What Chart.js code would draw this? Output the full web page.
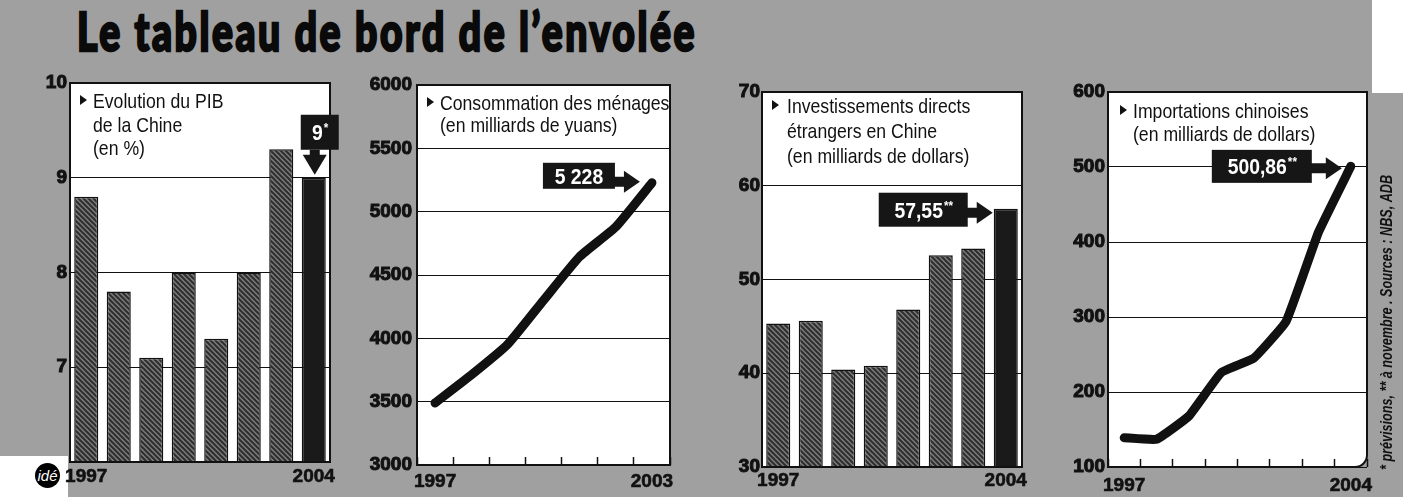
<!DOCTYPE html>
<html>
<head>
<meta charset="utf-8">
<script src="https://cdn.jsdelivr.net/npm/chart.js@4.4.1/dist/chart.umd.min.js"></script>
<style>
  html, body { margin: 0; padding: 0; background: #fff; }
  body { width: 1405px; height: 502px; position: relative; overflow: hidden; }
  .bg { position: absolute; background: #a0a0a0; }
  #title {
    position: absolute; left: 77px; top: 4px;
    font: 900 53px Lato, Roboto, "DejaVu Sans", sans-serif; line-height: 54px;
    white-space: nowrap; transform-origin: 0 0; color: #0a0a0a;
    -webkit-text-stroke: 2.5px #0a0a0a; letter-spacing: 3.5px;
  }
  #logo {
    position: absolute; left: 35px; top: 463px; width: 25px; height: 25px; border-radius: 50%;
    background: #000; color: #fff; font: italic 15px "Liberation Sans", sans-serif;
    line-height: 25px; text-align: center;
  }
  canvas { position: absolute; }
</style>
</head>
<body>
<div class="bg" style="left:0;top:0;width:1372px;height:497px"></div>
<div class="bg" style="left:1372px;top:93px;width:31px;height:404px"></div>
<div style="position:absolute;left:0;top:456px;width:68px;height:46px;background:#fff"></div>
<div id="logo">idé</div>
<div id="title">Le tableau de bord de l’envolée</div>
<canvas id="c1" width="350" height="442" style="left:0;top:60px"></canvas>
<canvas id="c2" width="350" height="442" style="left:350px;top:60px"></canvas>
<canvas id="c3" width="340" height="442" style="left:700px;top:60px"></canvas>
<canvas id="c4" width="365" height="442" style="left:1040px;top:60px"></canvas>
<script>
// ---- data ----
const pibYears = ["1997", "1998", "1999", "2000", "2001", "2002", "2003", "2004"];
const pibValues = [8.8, 7.8, 7.1, 8.0, 7.3, 8.0, 9.3, 9.0];

const consoYears = ["1997", "1998", "1999", "2000", "2001", "2002", "2003"];
const consoValues = [3490, 3710, 3950, 4300, 4645, 4880, 5228];

const ideYears = ["1997", "1998", "1999", "2000", "2001", "2002", "2003", "2004"];
const ideValues = [45.3, 45.6, 40.4, 40.8, 46.8, 52.6, 53.3, 57.55];

const importYears = ["1997", "1998", "1999", "2000", "2001", "2002", "2003", "2004"];
const importValues = [139, 137, 168, 226, 245, 294, 413, 500.86];

const pibHeading = ["Evolution du PIB", "de la Chine", "(en %)"];
const consoHeading = ["Consommation des ménages", "(en milliards de yuans)"];
const ideHeading = ["Investissements directs", "étrangers en Chine", "(en milliards de dollars)"];
const importHeading = ["Importations chinoises", "(en milliards de dollars)"];

const sourceNote = "* prévisions, ** à novembre . Sources : NBS, ADB";

// ---- styling ----
const INK = "#111";
const FAMILY = "'Liberation Sans', Arial, sans-serif";

function fontAvailable(name) {
  const c = document.createElement("canvas").getContext("2d");
  c.font = "40px monospace";
  const a = c.measureText("1997 abcXYZ").width;
  c.font = '40px "' + name + '", monospace';
  return c.measureText("1997 abcXYZ").width !== a;
}
const hasNarrow = fontAvailable("Liberation Sans Narrow");
const xTickFont = hasNarrow
  ? { family: "'Liberation Sans Narrow'", size: 23, weight: "bold" }
  : { family: FAMILY, size: 19, weight: "bold" };
const yTickFont = { family: FAMILY, size: 19, weight: "bold" };
const xHalf = xTickFont.size * 1.2 / 2;

// fit the big title to its width
const titleEl = document.getElementById("title");
titleEl.style.transform = "scaleX(" + (620 / titleEl.getBoundingClientRect().width) + ")";

function hatch(canvasId, bg, fg) {
  const p = document.createElement("canvas");
  p.width = 5; p.height = 5;
  const g = p.getContext("2d");
  g.fillStyle = bg; g.fillRect(0, 0, 5, 5);
  g.strokeStyle = fg; g.lineWidth = 2;
  g.beginPath();
  g.moveTo(0, 0); g.lineTo(5, 5);
  g.moveTo(-2.5, 2.5); g.lineTo(2.5, 7.5);
  g.moveTo(2.5, -2.5); g.lineTo(7.5, 2.5);
  g.stroke();
  return document.getElementById(canvasId).getContext("2d").createPattern(p, "repeat");
}

function squeezedText(ctx, text, x, y, size, weight, squeeze, color) {
  ctx.save();
  ctx.font = weight + " " + size + "px " + FAMILY;
  ctx.fillStyle = color;
  ctx.textAlign = "left";
  ctx.textBaseline = "alphabetic";
  ctx.translate(x, y);
  ctx.scale(squeeze, 1);
  ctx.fillText(text, 0, 0);
  ctx.restore();
}
function squeezedWidth(ctx, text, size, weight, squeeze) {
  ctx.save();
  ctx.font = weight + " " + size + "px " + FAMILY;
  const w = ctx.measureText(text).width * squeeze;
  ctx.restore();
  return w;
}

// value label: main text + small superscript, centred in a box
function boxLabel(ctx, bx, by, bw, bh, main, sup) {
  ctx.fillStyle = "#161616";
  ctx.fillRect(bx, by, bw, bh);
  const wm = squeezedWidth(ctx, main, 22, "bold", 0.88);
  const ws = sup ? squeezedWidth(ctx, sup, 13, "bold", 0.9) : 0;
  const x0 = bx + (bw - wm - ws) / 2;
  const base = by + bh / 2 + 8;
  squeezedText(ctx, main, x0, base, 22, "bold", 0.88, "#fff");
  if (sup) squeezedText(ctx, sup, x0 + wm + 1, base - 8, 13, "bold", 0.9, "#fff");
}

function calloutRight(ctx, tipX, tipY, c) {
  const headLen = 16, headHalf = 11, shaftH = 10;
  const boxRight = tipX - c.arrow;
  ctx.save();
  ctx.fillStyle = "#161616";
  ctx.beginPath();
  ctx.moveTo(boxRight - 1, tipY - shaftH / 2);
  ctx.lineTo(tipX - headLen, tipY - shaftH / 2);
  ctx.lineTo(tipX - headLen, tipY - headHalf);
  ctx.lineTo(tipX, tipY);
  ctx.lineTo(tipX - headLen, tipY + headHalf);
  ctx.lineTo(tipX - headLen, tipY + shaftH / 2);
  ctx.lineTo(boxRight - 1, tipY + shaftH / 2);
  ctx.closePath();
  ctx.fill();
  boxLabel(ctx, boxRight - c.w, tipY + c.dy - c.h / 2, c.w, c.h, c.main, c.sup);
  ctx.restore();
}

function calloutDown(ctx, tipX, tipY, c) {
  const headLen = 20, headHalf = 12, shaft = 5, shaftW = 10;
  const boxBottom = tipY - headLen - shaft;
  ctx.save();
  ctx.fillStyle = "#161616";
  ctx.beginPath();
  ctx.moveTo(tipX - shaftW / 2, boxBottom);
  ctx.lineTo(tipX - shaftW / 2, tipY - headLen);
  ctx.lineTo(tipX - headHalf, tipY - headLen);
  ctx.lineTo(tipX, tipY);
  ctx.lineTo(tipX + headHalf, tipY - headLen);
  ctx.lineTo(tipX + shaftW / 2, tipY - headLen);
  ctx.lineTo(tipX + shaftW / 2, boxBottom);
  ctx.closePath();
  ctx.fill();
  boxLabel(ctx, tipX + c.dx - c.w / 2, boxBottom - c.h, c.w, c.h, c.main, c.sup);
  ctx.restore();
}

const panelPlugin = {
  id: "panel",
  beforeDraw(chart, args, o) {
    const a = chart.chartArea, ctx = chart.ctx;
    ctx.save();
    ctx.fillStyle = "#fff";
    ctx.beginPath();
    ctx.roundRect(a.left, a.top, a.width, a.height, [0, 0, o.radius || 0, 0]);
    ctx.fill();
    ctx.restore();
  },
  afterDraw(chart, args, o) {
    const a = chart.chartArea, ctx = chart.ctx;
    // frame
    ctx.save();
    ctx.strokeStyle = INK;
    ctx.lineWidth = 2;
    ctx.beginPath();
    ctx.roundRect(a.left, a.top, a.width, a.height, [0, 0, o.radius || 0, 0]);
    ctx.stroke();
    ctx.restore();

    // heading with bullet
    const h = o.heading;
    const bx = a.left + h.bulletX, by = a.top + h.y - 8;
    ctx.save();
    ctx.fillStyle = INK;
    ctx.beginPath();
    ctx.moveTo(bx, by - 5); ctx.lineTo(bx + 7, by); ctx.lineTo(bx, by + 5);
    ctx.closePath(); ctx.fill();
    ctx.restore();
    h.lines.forEach((line, i) => {
      squeezedText(ctx, line, a.left + h.x, a.top + h.y + i * h.lh, 21, "normal", 0.84, INK);
    });

    // value callout on the last mark
    const meta = chart.getDatasetMeta(0);
    const el = meta.data[meta.data.length - 1];
    const c = o.callout;
    if (c.dir === "down") {
      calloutDown(ctx, el.x + 1, el.y - 3, c);
    } else if (c.bar) {
      calloutRight(ctx, el.x - el.width / 2 - 1, el.y + 4, c);
    } else {
      calloutRight(ctx, el.x + c.tipDx, el.y + c.tipDy, c);
    }

    // vertical source note
    if (o.side) {
      const s = o.side;
      ctx.save();
      ctx.font = "italic bold 17px " + FAMILY;
      const w = ctx.measureText(s.text).width;
      ctx.translate(s.x, s.y);
      ctx.rotate(-Math.PI / 2);
      ctx.scale(s.len / w, 1);
      ctx.fillStyle = INK;
      ctx.textBaseline = "middle";
      ctx.fillText(s.text, 0, 0);
      ctx.restore();
    }
  }
};

function makePanel(id, cfg) {
  return new Chart(document.getElementById(id), {
    type: cfg.type,
    data: { labels: cfg.labels, datasets: [cfg.dataset] },
    options: {
      responsive: false,
      animation: false,
      events: [],
      devicePixelRatio: 1,
      layout: { padding: cfg.padding },
      plugins: {
        legend: { display: false },
        tooltip: { enabled: false },
        panel: cfg.panel
      },
      scales: {
        x: {
          offset: true,
          grid: {
            offset: true, drawOnChartArea: false, drawTicks: cfg.xTicks,
            tickLength: -8, tickColor: INK, tickWidth: 1.5
          },
          border: { display: false },
          ticks: {
            autoSkip: false, maxRotation: 0, font: xTickFont, color: INK,
            textStrokeColor: INK, textStrokeWidth: 0.6,
            padding: cfg.xOffset - xHalf + (cfg.xTicks ? 8 : 0),
            callback: function (v, i, arr) {
              return (i === 0 || i === arr.length - 1) ? this.getLabelForValue(v) : "";
            }
          },
          afterFit: (s) => { s.height = cfg.xHeight; }
        },
        y: {
          min: cfg.yMin, max: cfg.yMax,
          grid: { color: INK, lineWidth: 1, drawTicks: false },
          border: { display: false },
          ticks: {
            stepSize: cfg.yStep, font: yTickFont, color: INK, padding: cfg.yPad,
            textStrokeColor: INK, textStrokeWidth: 1,
            callback: (v) => (cfg.yHide && cfg.yHide.includes(v)) ? "" : String(v)
          },
          afterFit: (s) => { s.width = cfg.yWidth; }
        }
      }
    },
    plugins: [panelPlugin]
  });
}

// Evolution du PIB
const pibPattern = hatch("c1", "#7c7c7c", "#2e2e2e");
makePanel("c1", {
  type: "bar",
  labels: pibYears,
  dataset: {
    data: pibValues,
    backgroundColor: pibValues.map((v, i) => i === pibValues.length - 1 ? "#1a1a1a" : pibPattern),
    borderColor: INK, borderWidth: 1.5,
    barPercentage: 0.74, categoryPercentage: 1
  },
  padding: { top: 23, right: 20, left: 0, bottom: 0 },
  yWidth: 70, xHeight: 40, yPad: 3, xOffset: 15, xTicks: false,
  yMin: 6, yMax: 10, yStep: 1, yHide: [6],
  panel: {
    heading: { lines: pibHeading, bulletX: 10, x: 23, y: 25, lh: 23.5 },
    callout: { dir: "down", w: 38, h: 35, dx: 5, main: "9", sup: "*" }
  }
});

// Consommation des ménages
makePanel("c2", {
  type: "line",
  labels: consoYears,
  dataset: {
    data: consoValues, borderColor: INK, borderWidth: 9, pointRadius: 0,
    tension: 0.15, borderCapStyle: "round", borderJoinStyle: "round", fill: false
  },
  padding: { top: 25, right: 30, left: 0, bottom: 0 },
  yWidth: 67, xHeight: 37, yPad: 5, xOffset: 17, xTicks: true,
  yMin: 3000, yMax: 6000, yStep: 500,
  panel: {
    heading: { lines: consoHeading, bulletX: 10, x: 23, y: 25, lh: 22 },
    callout: { dir: "right", tipDx: -12, tipDy: -1, arrow: 25, w: 72, h: 26, dy: -6, main: "5 228", sup: "" }
  }
});

// Investissements directs étrangers
const idePattern = hatch("c3", "#7c7c7c", "#2e2e2e");
makePanel("c3", {
  type: "bar",
  labels: ideYears,
  dataset: {
    data: ideValues,
    backgroundColor: ideValues.map((v, i) => i === ideValues.length - 1 ? "#1a1a1a" : idePattern),
    borderColor: INK, borderWidth: 1.5,
    barPercentage: 0.74, categoryPercentage: 1
  },
  padding: { top: 32, right: 18, left: 0, bottom: 0 },
  yWidth: 62, xHeight: 35, yPad: 2, xOffset: 14, xTicks: false,
  yMin: 30, yMax: 70, yStep: 10,
  panel: {
    heading: { lines: ideHeading, bulletX: 10, x: 25, y: 21, lh: 25 },
    callout: { dir: "right", bar: true, arrow: 25, w: 89, h: 34, dy: -3, main: "57,55", sup: "**" }
  }
});

// Importations chinoises
makePanel("c4", {
  type: "line",
  labels: importYears,
  dataset: {
    data: importValues, borderColor: INK, borderWidth: 9, pointRadius: 0,
    tension: 0.1, borderCapStyle: "round", borderJoinStyle: "round", fill: false
  },
  padding: { top: 32, right: 38, left: 0, bottom: 0 },
  yWidth: 68, xHeight: 35, yPad: 3, xOffset: 19, xTicks: true,
  yMin: 100, yMax: 600, yStep: 100,
  panel: {
    radius: 12,
    heading: { lines: importHeading, bulletX: 12, x: 25, y: 26, lh: 23 },
    callout: { dir: "right", tipDx: -9, tipDy: 2, arrow: 30, w: 100, h: 33, dy: -2, main: "500,86", sup: "**" },
    side: { text: sourceNote, x: 347, y: 410, len: 295 }
  }
});
</script>
</body>
</html>
